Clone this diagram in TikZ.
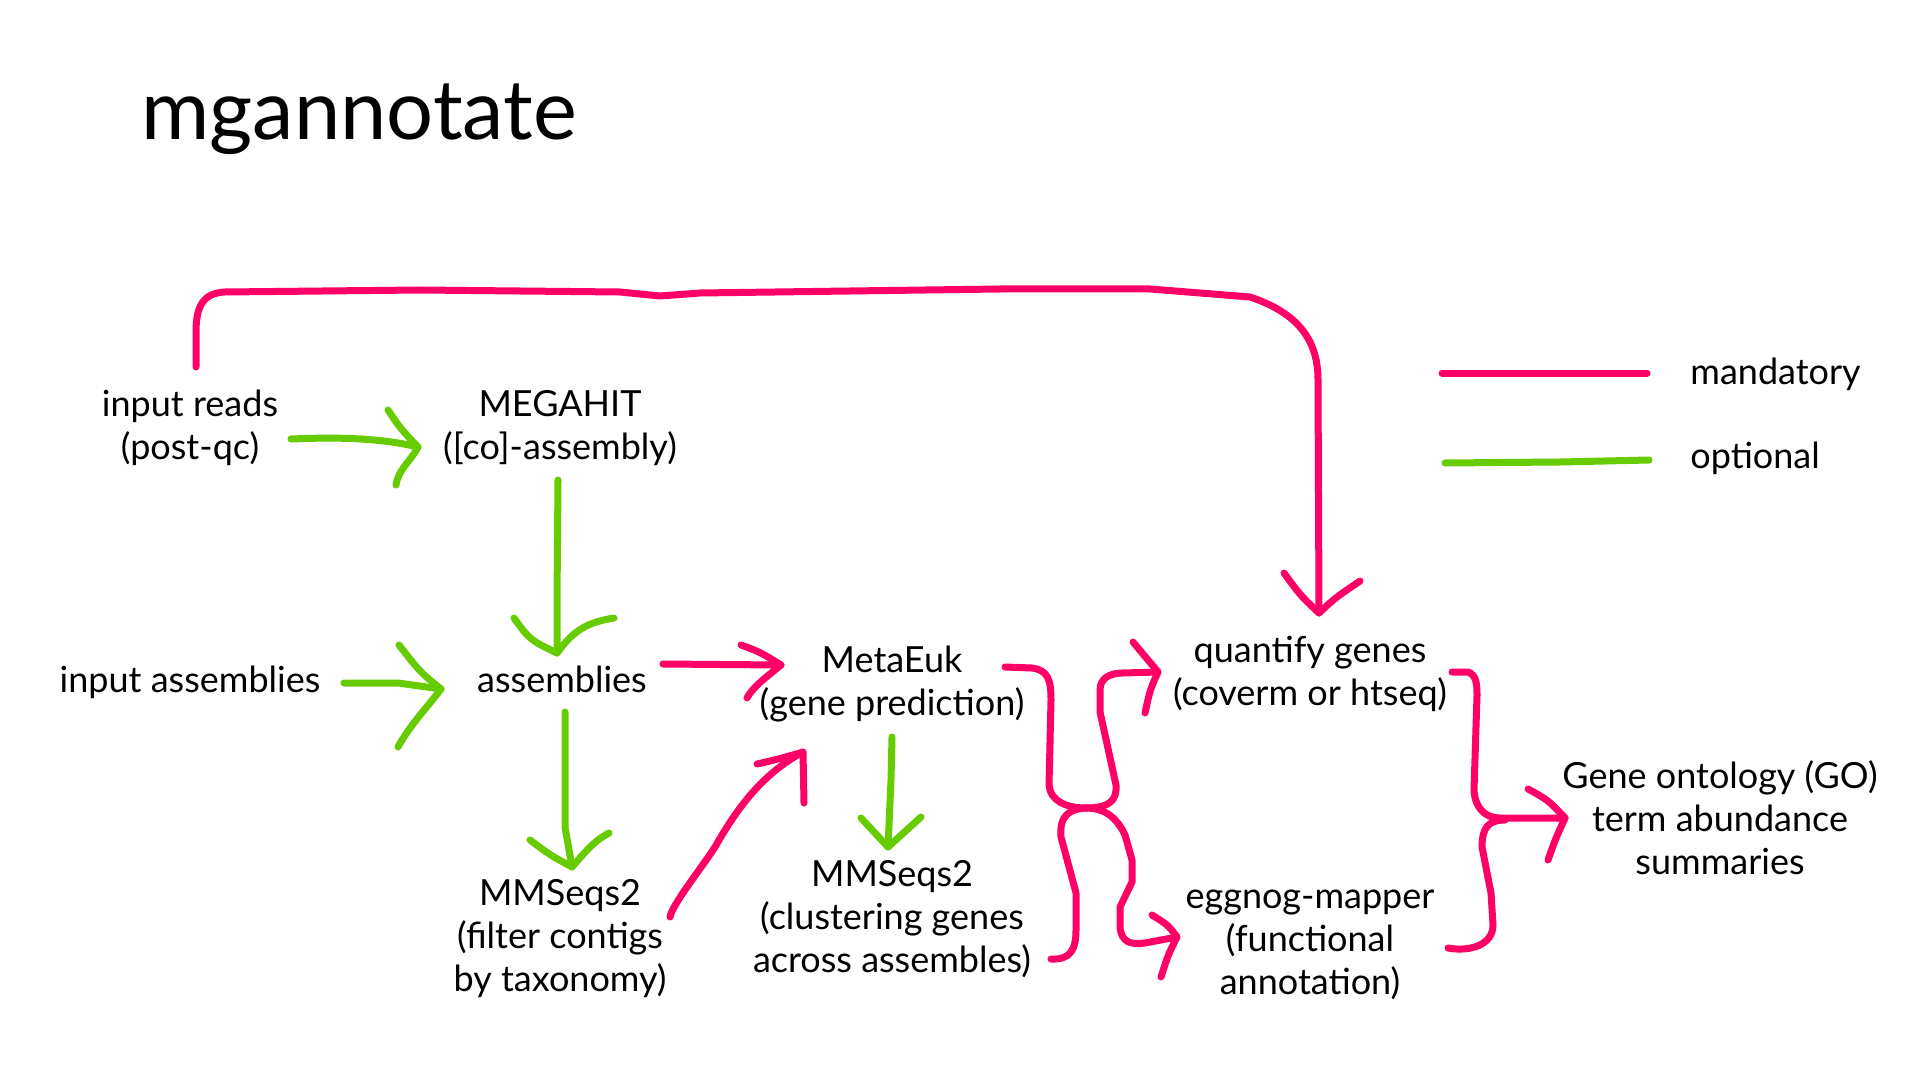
\documentclass[tikz,border=0pt]{standalone}
\usepackage{fontspec}
\setmainfont{Lato}
\definecolor{mandred}{RGB}{255,0,102}
\definecolor{optgreen}{RGB}{102,204,0}
\tikzset{
  lbl/.style={font=\fontsize{18pt}{21.5pt}\selectfont, align=center, inner sep=0pt, text=black},
  redline/.style={draw=mandred, line width=3.5pt, line cap=round, line join=round},
  grnline/.style={draw=optgreen, line width=3.5pt, line cap=round, line join=round}
}
\begin{document}
\begin{tikzpicture}[x=0.5pt, y=-0.5pt]
\useasboundingbox (0,0) rectangle (1920,1080);
% title
\node[anchor=base west, inner sep=0pt, font=\fontsize{41.5pt}{50pt}\selectfont] (title) at (141,140) {mgannotate};
% labels
\node[lbl] (reads) at (190,428) {input reads\\(post-qc)};
\node[lbl] (megahit) at (560,428) {MEGAHIT\\([co]-assembly)};
\node[lbl, anchor=base] (inasm) at (190,692) {input assemblies};
\node[lbl, anchor=base] (asm) at (562,692) {assemblies};
\node[lbl] (metaeuk) at (892,684) {MetaEuk\\(gene prediction)};
\node[lbl] (mmfilt) at (560,939) {MMSeqs2\\(filter contigs\\by taxonomy)};
\node[lbl] (mmclust) at (892,919) {MMSeqs2\\(clustering genes\\across assembles)};
\node[lbl] (quant) at (1310,674) {quantify genes\\(coverm or htseq)};
\node[lbl] (egg) at (1310,945) {eggnog-mapper\\(functional\\annotation)};
\node[lbl] (go) at (1720,818) {Gene ontology (GO)\\term abundance\\summaries};
\node[lbl, anchor=base west] (lmand) at (1690,384) {mandatory};
\node[lbl, anchor=base west] (lopt) at (1690,468) {optional};
% legend lines
\coordinate (lm1) at (1442,373); \coordinate (lm2) at (1647,373);
\coordinate (lo1) at (1445,463); \coordinate (lo2) at (1649,460);
\draw[redline] (lm1) -- (lm2);
\draw[grnline] (lo1) -- (1560,462) -- (lo2);
% input reads -> quantify (top loop)
\coordinate (topS) at (196,367);
\coordinate (topE) at (1319,613);
\draw[redline] (topS) -- (196,332) .. controls (196,305) and (204,293) .. (225,292)
  -- (420,290) -- (620,292) -- (660,296) -- (700,293) -- (1000,289) -- (1150,289)
  -- (1250,297) .. controls (1298,313) and (1318,340) .. (1318,380) -- (topE);
\draw[redline] (1284,573) .. controls (1300,595) .. (topE) .. controls (1335,598) .. (1360,581);
% input reads -> MEGAHIT
\coordinate (rmS) at (291,439); \coordinate (rmE) at (418,447);
\draw[grnline] (rmS) .. controls (340,437) and (380,438) .. (rmE);
\draw[grnline] (388,410) .. controls (400,428) .. (rmE) .. controls (410,462) and (398,470) .. (396,485);
% MEGAHIT -> assemblies
\coordinate (maS) at (558,480); \coordinate (maE) at (557,653);
\draw[grnline] (maS) -- (557,600) -- (maE);
\draw[grnline] (514,618) .. controls (530,640) .. (maE) .. controls (575,628) and (590,622) .. (614,618);
% input assemblies -> assemblies
\coordinate (iaS) at (344,683); \coordinate (iaE) at (441,689);
\draw[grnline] (iaS) -- (398,683) -- (iaE);
\draw[grnline] (399,645) .. controls (420,672) .. (iaE) .. controls (425,710) and (410,725) .. (398,747);
% assemblies -> MetaEuk
\coordinate (amS) at (663,664); \coordinate (amE) at (781,665);
\draw[redline] (amS) -- (amE);
\draw[redline] (741,645) .. controls (760,652) .. (amE) .. controls (765,678) and (752,688) .. (747,698);
% assemblies -> MMSeqs2 filter
\coordinate (afS) at (565,712); \coordinate (afE) at (572,867);
\draw[grnline] (afS) -- (565,827) -- (afE);
\draw[grnline] (530,840) .. controls (550,855) .. (afE) .. controls (585,852) and (595,840) .. (609,833);
% MMSeqs2 filter -> MetaEuk
\coordinate (fmS) at (670,917); \coordinate (fmE) at (803,752);
\draw[redline] (fmS) .. controls (672,905) and (700,870) .. (715,847) .. controls (735,812) and (760,775) .. (fmE);
\draw[redline] (757,764) .. controls (775,760) and (790,756) .. (fmE) -- (804,803);
% MetaEuk -> MMSeqs2 cluster
\coordinate (mcS) at (892,737); \coordinate (mcE) at (888,847);
\draw[grnline] (mcS) -- (891,780) -- (mcE);
\draw[grnline] (861,818) -- (mcE) -- (921,817);
% brace MetaEuk + MMSeqs2 -> quantify + eggnog
\coordinate (jn) at (1086,808);
\coordinate (bMe) at (1005,667);
\coordinate (bMc) at (1051,959);
\coordinate (bQ) at (1158,672);
\coordinate (bE) at (1177,937);
\draw[redline] (bMe) -- (1032,668) .. controls (1048,670) and (1051,680) .. (1051,700)
  -- (1049,785) .. controls (1050,800) and (1065,808) .. (jn);
\draw[redline] (bMc) .. controls (1070,960) and (1076,950) .. (1076,930) -- (1076,893)
  -- (1061,837) .. controls (1059,815) and (1070,809) .. (jn);
\draw[redline] (jn) .. controls (1110,808) and (1117,800) .. (1116,785) -- (1100,712)
  -- (1100,690) .. controls (1100,678) and (1110,673) .. (1123,673) -- (bQ);
\draw[redline] (1133,642) .. controls (1148,660) .. (bQ) .. controls (1150,690) .. (1145,713);
\draw[redline] (jn) .. controls (1105,808) and (1117,818) .. (1125,835) -- (1132,860) -- (1132,882)
  -- (1120,907) -- (1120,928) .. controls (1122,942) and (1130,945) .. (1145,943) -- (bE);
\draw[redline] (1152,915) .. controls (1168,925) .. (bE) .. controls (1168,955) .. (1161,977);
% brace quantify + eggnog -> GO
\coordinate (gQ) at (1452,672);
\coordinate (gE) at (1448,948);
\coordinate (gT) at (1565,818);
\draw[redline] (gQ) -- (1468,672) .. controls (1476,675) and (1477,683) .. (1477,695)
  -- (1474,790) .. controls (1475,808) and (1485,818) .. (1500,818) -- (gT);
\draw[redline] (gE) .. controls (1470,952) and (1493,945) .. (1493,925) -- (1491,893)
  -- (1482,847) .. controls (1482,828) and (1488,820) .. (1505,820);
\draw[redline] (1528,789) .. controls (1548,800) .. (gT) .. controls (1555,840) .. (1548,860);
\end{tikzpicture}
\end{document}
